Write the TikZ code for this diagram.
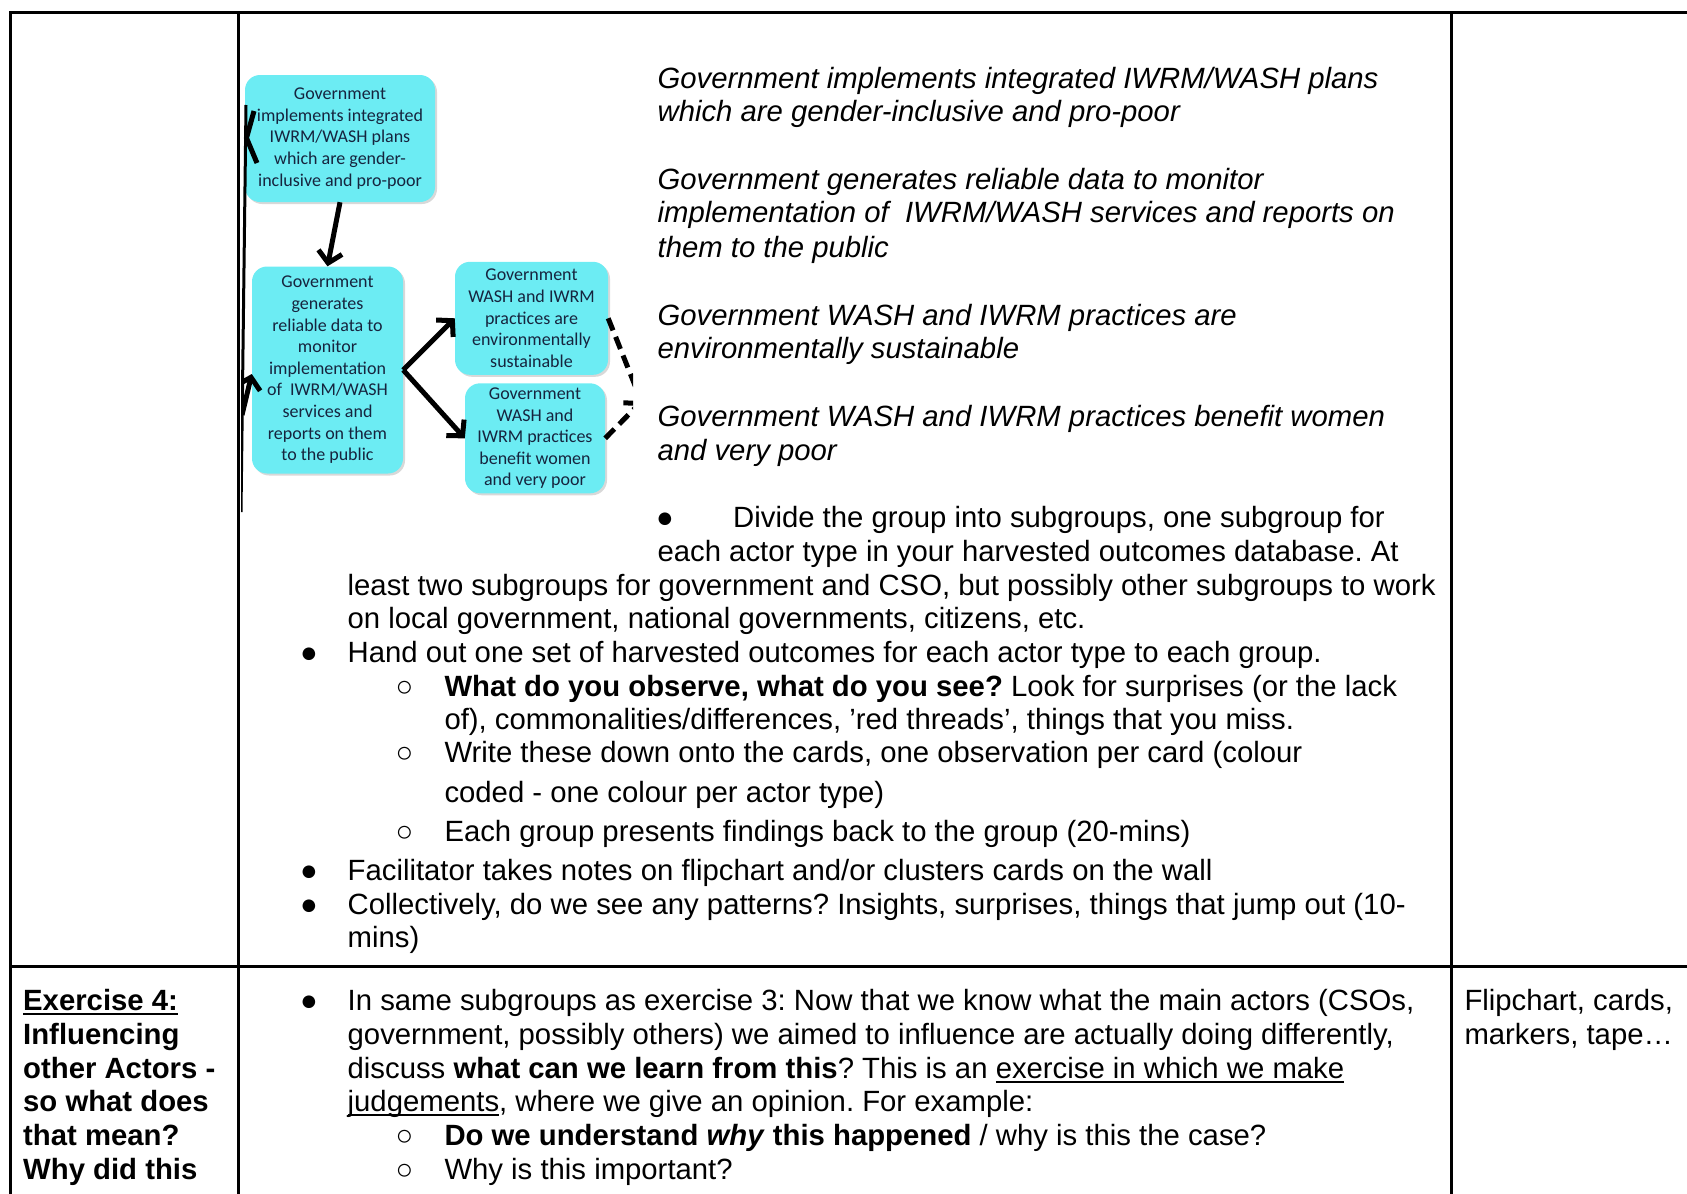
\documentclass[tikz,border=0pt]{standalone}
\usepackage{fontspec}
\setmainfont{Liberation Sans}
\newfontfamily\cardfont{Carlito}
\newsavebox\ulbox
\newcommand\ulword[1]{\sbox\ulbox{#1}\rlap{\rule[-5pt]{\wd\ulbox}{2pt}}\usebox\ulbox}
\frenchspacing
\usetikzlibrary{arrows.meta,shadows}
\definecolor{cardfill}{RGB}{108,236,243}
\definecolor{cardink}{RGB}{22,36,62}

\begin{document}
\begin{tikzpicture}[x=1pt,y=-1pt]
\useasboundingbox (0,0) rectangle (1687,1194);
\tikzset{RuleStyle/.style={line width=3pt}}
\draw[RuleStyle] (10,1194) -- (10,12) -- (1687,12);
\draw[RuleStyle] (238,12) -- (238,1194);
\draw[RuleStyle] (1451,12) -- (1451,1194);
\draw[RuleStyle] (10,966) -- (1687,966);

\tikzset{CardStyle/.style={fill=cardfill,rounded corners=15pt,inner sep=0pt,align=center,
  text=cardink,font=\cardfont\fontsize{18}{21.6}\selectfont,
  drop shadow={fill=black!30,shadow xshift=2pt,shadow yshift=-2pt}}}
\begin{scope}
\clip (241,60) rectangle (633,515);
\node[CardStyle,minimum width=190pt,minimum height=127pt] (cardPlan) at (340,138.5)
  {Government\\implements integrated\\IWRM/WASH plans\\which are gender-\\inclusive and pro-poor};
\node[CardStyle,minimum width=151pt,minimum height=207pt] (cardData) at (327.5,370)
  {Government\\generates\\reliable data to\\monitor\\implementation\\of\ \ IWRM/WASH\\services and\\reports on them\\to the public};
\node[CardStyle,minimum width=153pt,minimum height=113pt] (cardEnv) at (531.5,318.3)
  {Government\\WASH and IWRM\\practices are\\environmentally\\sustainable};
\node[CardStyle,minimum width=140pt,minimum height=110pt] (cardPoor) at (535,438.3)
  {Government\\WASH and\\IWRM practices\\benefit women\\and very poor};
\coordinate (edgeTop) at (246,105);
\coordinate (edgeBot) at (241,512);
\coordinate (tipA) at (246.5,138);
\coordinate (tailB) at (242,415);
\coordinate (cutEnv) at (640,398);
\coordinate (cutPoor) at (642,401);
\tikzset{LinkStyle/.style={line width=5pt,-{Straight Barb[length=11pt,width=24pt]}},
  DashStyle/.style={line width=5pt,dash pattern=on 13pt off 7pt}}
\draw[line width=3pt] (edgeTop) -- (edgeBot);
\draw[line width=5pt] (254,111) -- (tipA) -- (257,163);
\draw[LinkStyle] (tailB) -- ([yshift=-4pt]cardData.west);
\draw[LinkStyle] (cardPlan.south) -- (cardData.north);
\draw[LinkStyle] (cardData.east) -- (cardEnv.west);
\draw[LinkStyle] (cardData.east) -- (cardPoor.west);
\draw[DashStyle] (cardEnv.east) -- (cutEnv);
\draw[DashStyle,-{Straight Barb[length=11pt,width=24pt]}] (cardPoor.east) -- (cutPoor);
\end{scope}

\tikzset{TextStyle/.style={anchor=base west,inner sep=0pt,font=\fontsize{29.3}{33.6}\selectfont},
  DotStyle/.style={anchor=base,inner sep=0pt,font=\fontsize{29.3}{33.6}\selectfont}}
\node[TextStyle] (1) at (657.4,88.3) {\itshape Government implements integrated IWRM/WASH plans};
\node[TextStyle] (2) at (657.4,121.9) {\itshape which are gender-inclusive and pro-poor};
\node[TextStyle] (3) at (657.4,189.4) {\itshape Government generates reliable data to monitor};
\node[TextStyle] (4) at (657.4,222.8) {\itshape implementation of\ \ IWRM/WASH services and reports on};
\node[TextStyle] (5) at (657.4,257.2) {\itshape them to the public};
\node[TextStyle] (6) at (657.4,325) {\itshape Government WASH and IWRM practices are};
\node[TextStyle] (7) at (657.4,358.3) {\itshape environmentally sustainable};
\node[TextStyle] (8) at (657.4,426.1) {\itshape Government WASH and IWRM practices benefit women};
\node[TextStyle] (9) at (657.4,460.5) {\itshape and very poor};

\node[DotStyle] (d1) at (665,527.2) {●};
\node[TextStyle] (10) at (733,527.2) {Divide the group into subgroups, one subgroup for};
\node[TextStyle] (11) at (657.4,561.7) {each actor type in your harvested outcomes database. At};
\node[TextStyle] (12) at (347.5,595) {least two subgroups for government and CSO, but possibly other subgroups to work};
\node[TextStyle] (13) at (347.5,628.4) {on local government, national governments, citizens, etc.};
\node[DotStyle] (d2) at (309,662.8) {●};
\node[TextStyle] (14) at (347.5,662.8) {Hand out one set of harvested outcomes for each actor type to each group.};
\node[DotStyle] (c1) at (404.5,696.2) {○};
\node[TextStyle] (15) at (444.3,696.2) {\textbf{What do you observe, what do you see?} Look for surprises (or the lack};
\node[TextStyle] (16) at (444.3,729.5) {of), commonalities/differences, ’red threads’, things that you miss.};
\node[DotStyle] (c2) at (404.5,762.9) {○};
\node[TextStyle] (17) at (444.3,762.9) {Write these down onto the cards, one observation per card (colour};
\node[TextStyle] (18) at (444.3,802.7) {coded - one colour per actor type)};
\node[DotStyle] (c3) at (404.5,841.4) {○};
\node[TextStyle] (19) at (444.3,841.4) {Each group presents findings back to the group (20-mins)};
\node[DotStyle] (d3) at (309,880.1) {●};
\node[TextStyle] (20) at (347.5,880.1) {Facilitator takes notes on flipchart and/or clusters cards on the wall};
\node[DotStyle] (d4) at (309,914.6) {●};
\node[TextStyle] (21) at (347.5,914.6) {Collectively, do we see any patterns? Insights, surprises, things that jump out (10-};
\node[TextStyle] (22) at (347.5,947.9) {mins)};

\node[TextStyle] (23) at (23,1010.3) {\bfseries\ulword{Exercise 4:}};
\node[TextStyle] (24) at (23,1044.7) {\bfseries Influencing};
\node[TextStyle] (25) at (23,1078.1) {\bfseries other Actors -};
\node[TextStyle] (26) at (23,1111.4) {\bfseries so what does};
\node[TextStyle] (27) at (23,1145.9) {\bfseries that mean?};
\node[TextStyle] (28) at (23,1179.2) {\bfseries Why did this};

\node[DotStyle] (d5) at (309,1010.3) {●};
\node[TextStyle] (29) at (347.5,1010.3) {In same subgroups as exercise 3: Now that we know what the main actors (CSOs,};
\node[TextStyle] (30) at (347.5,1044.7) {government, possibly others) we aimed to influence are actually doing differently,};
\node[TextStyle] (31) at (347.5,1078.1) {discuss \textbf{what can we learn from this}? This is an \ulword{exercise in which we make}};
\node[TextStyle] (32) at (347.5,1111.4) {\ulword{judgements}, where we give an opinion. For example:};
\node[DotStyle] (c4) at (404.5,1145.9) {○};
\node[TextStyle] (33) at (444.3,1145.9) {\textbf{Do we understand \textit{why} this happened} / why is this the case?};
\node[DotStyle] (c5) at (404.5,1179.2) {○};
\node[TextStyle] (34) at (444.3,1179.2) {Why is this important?};

\node[TextStyle] (35) at (1464.3,1010.3) {Flipchart, cards,};
\node[TextStyle] (36) at (1464.3,1044.7) {markers, tape…};
\end{tikzpicture}
\end{document}
